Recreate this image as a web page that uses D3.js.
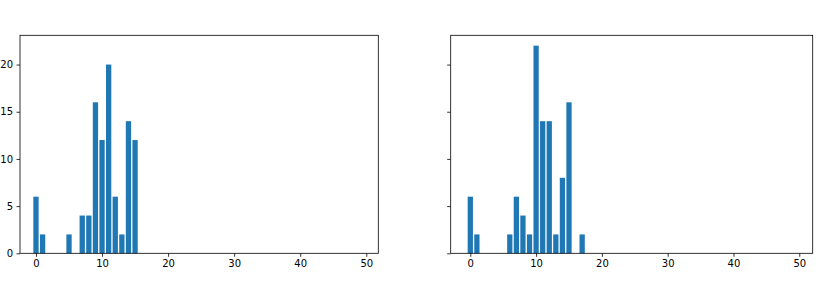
<!DOCTYPE html>
<html>
<head>
<meta charset="utf-8">
<script src="https://cdn.jsdelivr.net/npm/d3@7"></script>
<style>
  body { margin: 0; background: #fff; }
  text { font-family: "DejaVu Sans", sans-serif; font-size: 10px; fill: #000; }
</style>
</head>
<body>
<div class="container"></div>
<script>
// data
const leftX = [0, 1, 5, 7, 8, 9, 10, 11, 12, 13, 14, 15];
const leftY = [6, 2, 2, 4, 4, 16, 12, 20, 6, 2, 14, 12];
const rightX = [0, 1, 6, 7, 8, 9, 10, 11, 12, 13, 14, 15, 17];
const rightY = [6, 2, 2, 6, 4, 2, 22, 14, 14, 2, 8, 16, 2];
const xTicks = [0, 10, 20, 30, 40, 50];
const yTicks = [0, 5, 10, 15, 20];

const w = 816;
const h = 282;
const [plotTop, plotBottom] = [35.3, 253.3];

const svg = d3.select('.container')
              .append('svg')
              .attr('width', w)
              .attr('height', h);

const y = d3.scaleLinear()
            .domain([0, 23.1])
            .range([plotBottom, plotTop]);

const panels = [
  {xs: leftX, ys: leftY, left: 20, right: 378.3, dom: [-2.42, 51.82], labels: true},
  {xs: rightX, ys: rightY, left: 450.7, right: 812.7, dom: [-2.98, 52.04], labels: false}
];

panels.forEach(p => {
  const x = d3.scaleLinear().domain(p.dom).range([p.left, p.right]);
  const g = svg.append('g');

  g.selectAll('rect')
   .data(p.xs)
   .enter()
   .append('rect')
   .attr('x', d => x(d - 0.4))
   .attr('width', x(0.8) - x(0))
   .attr('y', (d, i) => y(p.ys[i]))
   .attr('height', (d, i) => y(0) - y(p.ys[i]))
   .attr('fill', '#1f77b4');

  const xAxis = d3.axisBottom(x).tickValues(xTicks).tickSize(3.5).tickPadding(3.5);
  const yAxis = d3.axisLeft(y).tickValues(yTicks).tickSize(3.5).tickPadding(3.5)
                  .tickFormat(d => p.labels ? d : '');

  const xg = g.append('g').attr('transform', `translate(0, ${plotBottom})`).call(xAxis);
  const yg = g.append('g').attr('transform', `translate(${p.left}, 0)`).call(yAxis);
  [xg, yg].forEach(a => {
    a.select('.domain').remove();
    a.selectAll('line').attr('stroke', '#000').attr('stroke-width', 0.8);
    a.selectAll('text').style('font-family', '"DejaVu Sans", sans-serif').style('font-size', '10px');
  });

  // frame
  g.append('rect')
   .attr('x', p.left)
   .attr('y', plotTop)
   .attr('width', p.right - p.left)
   .attr('height', plotBottom - plotTop)
   .attr('fill', 'none')
   .attr('stroke', '#000')
   .attr('stroke-width', 0.8);
});
</script>
</body>
</html>
